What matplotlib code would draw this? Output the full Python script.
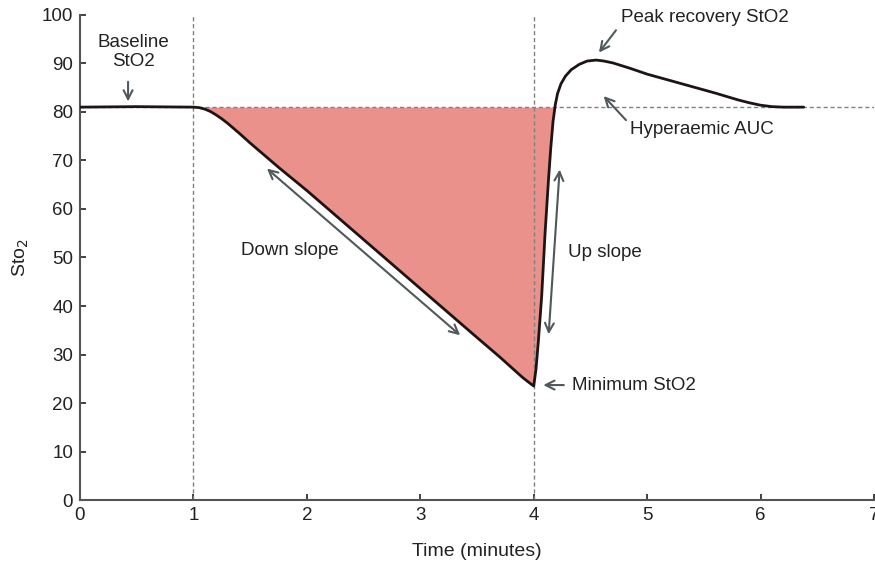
import matplotlib
matplotlib.use('Agg')
from matplotlib import pyplot as plt
import numpy as np

# Data
time_min = [0.0, 0.5, 1.0, 1.05, 1.1, 1.15, 1.2, 1.25, 1.3, 1.35, 1.4, 1.5, 1.75, 2.0,
            2.5, 3.0, 3.5, 3.7, 3.8, 3.9, 3.96, 4.0, 4.02, 4.04, 4.07, 4.1, 4.13, 4.15,
            4.17, 4.19, 4.21, 4.24, 4.28, 4.33, 4.4, 4.47, 4.55, 4.62, 4.7, 4.85, 5.0,
            5.2, 5.4, 5.6, 5.8, 5.9, 6.0, 6.1, 6.2, 6.38]
sto2 = [81.0, 81.1, 81.0, 80.9, 80.6, 80.1, 79.4, 78.6, 77.7, 76.7, 75.7, 73.6, 68.6,
        63.8, 53.7, 43.6, 33.5, 29.5, 27.4, 25.3, 24.2, 23.5, 27.0, 32.5, 42.0, 55.0,
        66.0, 72.5, 78.0, 81.5, 83.8, 85.8, 87.4, 88.7, 89.8, 90.5, 90.7, 90.5, 90.1,
        89.0, 87.8, 86.5, 85.2, 83.9, 82.5, 81.9, 81.4, 81.1, 81.0, 81.0]
BASELINE = 81.0
markers_x = [1, 4]
xticks = list(range(0, 8))
yticks = list(range(0, 101, 10))

plt.rcParams['font.family'] = ['Liberation Sans', 'DejaVu Sans']
fig = plt.figure(figsize=(8.75, 5.65), dpi=100)
ax = fig.add_axes([0.0914, 0.115, 0.9075, 0.8585])

t = np.array(time_min)
s = np.array(sto2)

# Plot
ax.fill_between(t, s, BASELINE, where=s < BASELINE, interpolate=True,
                color='#E9918A', linewidth=0, zorder=1)
ax.axhline(BASELINE, color='#808080', linestyle=(0, (3, 2)), linewidth=1.0, zorder=2)
for mx in markers_x:
    ax.axvline(mx, color='#808080', linestyle=(0, (3, 2)), linewidth=1.0, zorder=2)
ax.plot(t, s, color='#1e1414', linewidth=2.0, zorder=3,
        solid_capstyle='round', solid_joinstyle='round')

# Annotations
grey = '#50585b'
fs = 13.5
txt = '#222222'
arrow = dict(arrowstyle='->', color=grey, lw=1.5, mutation_scale=16)
darrow = dict(arrowstyle='<->', color=grey, lw=1.5, mutation_scale=16)

ax.text(0.47, 92.4, 'Baseline\nStO2', ha='center', va='center', fontsize=fs,
        color=txt, linespacing=1.2)
ax.annotate('', xy=(0.424, 81.6), xytext=(0.424, 86.8), arrowprops=arrow)

ax.text(4.77, 99.4, 'Peak recovery StO2', ha='left', va='center', fontsize=fs, color=txt)
ax.annotate('', xy=(4.56, 91.8), xytext=(4.74, 97.3), arrowprops=arrow)

ax.text(4.85, 76.3, 'Hyperaemic AUC', ha='left', va='center', fontsize=fs, color=txt)
ax.annotate('', xy=(4.60, 83.7), xytext=(4.83, 77.9), arrowprops=arrow)

ax.text(4.34, 23.7, 'Minimum StO2', ha='left', va='center', fontsize=fs, color=txt)
ax.annotate('', xy=(4.06, 23.7), xytext=(4.29, 23.7), arrowprops=arrow)

ax.text(1.85, 51.5, 'Down slope', ha='center', va='center', fontsize=fs, color=txt)
ax.annotate('', xy=(1.63, 68.7), xytext=(3.37, 33.6), arrowprops=darrow)

ax.text(4.30, 51.1, 'Up slope', ha='left', va='center', fontsize=fs, color=txt)
ax.annotate('', xy=(4.23, 68.7), xytext=(4.13, 33.6), arrowprops=darrow)

# Style
ax.set_xlim(0, 7)
ax.set_ylim(0, 100)
ax.set_xticks(xticks)
ax.set_yticks(yticks)
ax.tick_params(direction='in', length=4, width=1.2, labelsize=13.5, colors=txt, pad=5)
for side in ['top', 'right']:
    ax.spines[side].set_visible(False)
for side in ['left', 'bottom']:
    ax.spines[side].set_linewidth(1.5)
    ax.spines[side].set_color('#555555')
ax.set_xlabel('Time (minutes)', fontsize=14, color=txt, labelpad=14)
ax.set_ylabel('Sto$_2$', fontsize=14, color=txt, labelpad=8)

plt.savefig('out.png', dpi=100)
